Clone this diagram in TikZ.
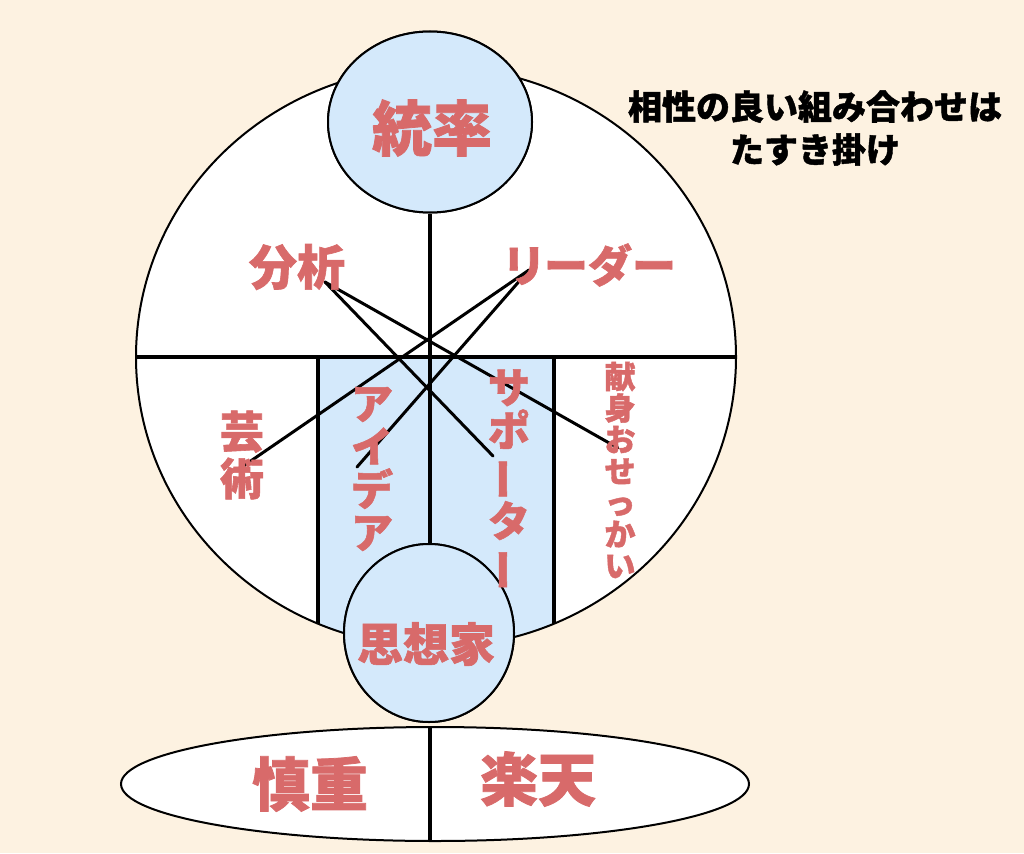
\documentclass[tikz,border=0pt]{standalone}
\usepackage{fontspec}
\usepackage{graphicx}
\newfontfamily\cjk{Noto Sans CJK JP Black}[FakeBold=1.3]
\usetikzlibrary{shapes.geometric}
\definecolor{bgc}{HTML}{FDF2E1}
\definecolor{bluec}{HTML}{D4E9FB}
\definecolor{redc}{HTML}{D86A6A}
\newcommand{\vbar}{\rotatebox[origin=c]{90}{ー}}
\begin{document}
\begin{tikzpicture}[x=1pt,y=-1pt,
  lbl/.style={text=redc,inner sep=0pt,font=\cjk\fontsize{#1}{#1}\selectfont},
  vlbl/.style n args={2}{text=redc,inner sep=0pt,align=center,font=\cjk\fontsize{#1}{#2}\selectfont},
  outl/.style={line width=2pt},
  divline/.style={line width=4.5pt},
  crossline/.style={line width=3pt,line cap=round},
  shapebox/.style={ellipse,inner sep=0pt,outl}
]
\path[fill=bgc] (0,0) rectangle (1024,853);
% big circle
\node[shapebox,fill=white,minimum width=600pt,minimum height=580pt] (big) at (436,357) {};
\begin{scope}
  \clip (436,357) ellipse [x radius=300,y radius=290];
  \fill[bluec] (318,357) rectangle (554,700);
\end{scope}
\draw[outl] (436,357) ellipse [x radius=300,y radius=290];
% coordinates
\coordinate (lt) at (318,357);
\coordinate (lb) at (318,623.6);
\coordinate (rt) at (554,357);
\coordinate (rb) at (554,623.6);
\coordinate (bunseki) at (325,282);
\coordinate (riida) at (529,270);
\coordinate (kenshin) at (618,448);
\coordinate (support) at (493,456);
\coordinate (geijutsu) at (242,467);
\coordinate (idea) at (357,467);
% top and bottom circles (nodes)
\node[shapebox,draw,fill=bluec,minimum width=204pt,minimum height=181pt] (lead) at (430,122) {};
\node[shapebox,draw,fill=bluec,minimum width=170pt,minimum height=178pt] (think) at (429,633) {};
% division lines
\draw[divline] (big.west) -- (big.east);
\draw[divline] (lt) -- (lb);
\draw[divline] (rt) -- (rb);
\draw[divline] (lead.south) -- (lead.south |- think.north);
% crossing lines
\draw[crossline] (bunseki) -- (kenshin);
\draw[crossline] (bunseki) -- (support);
\draw[crossline] (riida) -- (geijutsu);
\draw[crossline] (riida) -- (idea);
% redraw circles on top of lines
\node[shapebox,draw,fill=bluec,minimum width=204pt,minimum height=181pt] at (lead) {};
\node[shapebox,draw,fill=bluec,minimum width=170pt,minimum height=178pt] at (think) {};
% bottom ellipse
\node[shapebox,draw,fill=white,minimum width=628pt,minimum height=114pt] (ground) at (435,784) {};
\draw[divline] (ground.north -| lead.south) -- (ground.south -| lead.south);
% labels
\node[lbl=60] (t1) at (432,128) {統率};
\node[lbl=48] (t2) at (297,267) {分析};
\node[lbl=44] (t3) at (589,265) {リ\kern-2pt ーダー};
\node[vlbl={44}{47}] (t4) at (242,455) {芸\\術};
\node[vlbl={42}{43}] (t5) at (372,469) {ア\\イ\\デ\\ア};
\node[vlbl={42}{43}] (t6) at (509,480) {サ\\ポ\\\vbar\\タ\\\vbar};
\node[vlbl={31}{31.5}] (t7) at (620,470) {献\\身\\お\\せ\\っ\\か\\い};
\node[lbl=46] (t8) at (426,644) {思想家};
\node[lbl=58] (t9) at (310,784) {慎重};
\node[lbl=58] (t10) at (538,779) {楽天};
\node[font=\cjk\fontsize{34}{43}\selectfont,align=center,inner sep=0pt] (title) at (815,128) {相性の良い組み合わせは\\たすき掛け};
\end{tikzpicture}
\end{document}
